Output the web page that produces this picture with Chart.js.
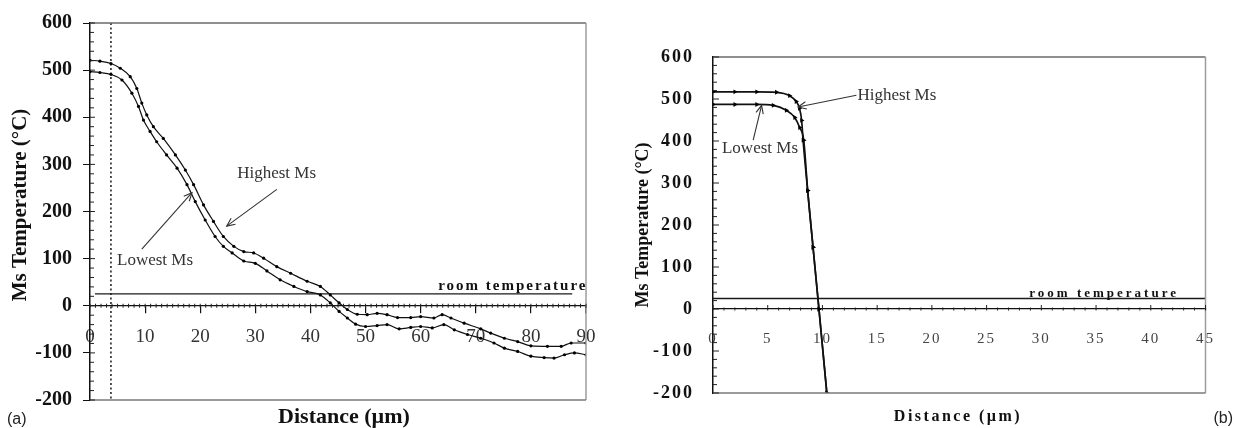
<!DOCTYPE html>
<html>
<head>
<meta charset="utf-8">
<script src="https://cdn.jsdelivr.net/npm/chart.js@4.4.1/dist/chart.umd.min.js"></script>
<style>
  html, body { margin: 0; padding: 0; background: #fff; }
  #wrap { position: relative; width: 1234px; height: 428px; overflow: hidden; background: #fff; }
  canvas { position: absolute; top: 0; }
  #chartA { left: 0; }
  #chartB { left: 617px; }
</style>
</head>
<body>
<div id="wrap">
  <canvas id="chartA" width="617" height="428"></canvas>
  <canvas id="chartB" width="617" height="428"></canvas>
</div>
<script>
// ---- Panel (a): Ms across a 90 µm profile ----
const distHighA = [0, 1.8, 3.8, 5.5, 7.3, 8.5, 9.4, 10.3, 11.5, 13.3, 15.5, 17.3, 18.8, 20.6, 22.4, 24.2, 26.1, 27.9, 29.7, 31.5, 33.9, 36.4, 39.4, 41.8, 43.6, 45.2, 46.7, 48.5, 50.3, 52.1, 53.9, 55.8, 58.2, 60, 62.4, 63.9, 65.5, 67.9, 70.9, 72.7, 75.2, 77.6, 80, 83, 85.5, 87.3, 90];
const msHighA   = [521, 519, 514, 504, 486, 461, 430, 405, 380, 355, 320, 288, 257, 214, 179, 147, 126, 115, 112, 101, 83, 69, 52, 41, 23, 6, -8, -18, -19, -16, -19, -25, -25, -23, -26, -19, -26, -37, -49, -58, -69, -76, -85, -86, -86, -79, -79];
const distLowA  = [0, 1.8, 3.8, 5.8, 7.6, 8.8, 9.7, 10.9, 12.1, 13.9, 15.8, 17.6, 19.1, 20.9, 22.7, 24.2, 25.8, 27.9, 30, 32.1, 34.5, 37, 39.4, 41.8, 43.6, 45.2, 46.7, 48.2, 50, 52.1, 53.9, 56.1, 58.2, 60, 62.1, 64.2, 66.1, 68.5, 70.9, 73.3, 75.2, 77.6, 80, 82.4, 84.2, 86.1, 87.9, 90];
const msLowA    = [497, 495, 491, 479, 451, 423, 394, 370, 348, 320, 292, 257, 221, 182, 147, 126, 112, 95, 90, 74, 55, 41, 30, 23, 6, -12, -26, -39, -44, -42, -40, -49, -46, -44, -47, -40, -51, -61, -69, -79, -90, -97, -107, -110, -111, -104, -100, -104];
const markerDepthA = 3.8;          // dotted reference depth, µm
const roomSpanA = [0.9, 87.5];     // extent of the room-temperature line, µm

// ---- Panel (b): Ms across a 45 µm profile ----
const distHighB = [0, 2, 4, 5.8, 7.0, 7.6, 7.9, 8.1, 8.23, 8.65, 9.14, 9.68, 10.4];
const msHighB   = [517, 517, 517, 516, 508, 494, 478, 449, 402, 282, 147, 0, -200];
const distLowB  = [0, 2, 4, 5.5, 6.7, 7.47, 7.92, 8.29, 8.65, 9.14, 9.68, 10.4];
const msLowB    = [487, 487, 487, 485, 473, 456, 432, 402, 282, 147, 0, -200];
const roomSpanB = [0, 45];

const roomTemp = 25;               // °C
const yTicks = { min: -200, max: 600, step: 100 };
const xMaxA = 90, xStepA = 10;
const xMaxB = 45, xStepB = 5;

const SERIF = '"Liberation Serif", "DejaVu Serif", serif';
const toPoints = (xs, ys) => xs.map((x, i) => ({ x, y: ys[i] }));

function seg(ctx, color, x1, y1, x2, y2) {
  ctx.strokeStyle = color;
  ctx.beginPath(); ctx.moveTo(x1, y1); ctx.lineTo(x2, y2); ctx.stroke();
}

function arrow(ctx, x1, y1, x2, y2, head) {
  seg(ctx, '#333', x1, y1, x2, y2);
  const a = Math.atan2(y2 - y1, x2 - x1);
  ctx.beginPath();
  ctx.moveTo(x2 - head * Math.cos(a - 0.42), y2 - head * Math.sin(a - 0.42));
  ctx.lineTo(x2, y2);
  ctx.lineTo(x2 - head * Math.cos(a + 0.42), y2 - head * Math.sin(a + 0.42));
  ctx.stroke();
}

// Frame, inside tick marks, captions and arrows for one panel
function decor(p) {
  return {
    id: 'decor',
    beforeDraw(chart) { chart.ctx.letterSpacing = p.tickSpacing; },
    beforeDatasetsDraw(chart) { chart.ctx.letterSpacing = '0px'; },
    afterDraw(chart) {
      const ctx = chart.ctx, xs = chart.scales.x, ys = chart.scales.y;
      const { left, right, top, bottom } = chart.chartArea;
      const P = (x, y) => [xs.getPixelForValue(x), ys.getPixelForValue(y)];
      ctx.save();
      ctx.letterSpacing = '0px';

      // plot frame
      ctx.lineWidth = 1.5;
      seg(ctx, '#6a6a6a', left, top, right, top);
      seg(ctx, '#9c9c9c', right, top, right, bottom);
      seg(ctx, '#7a7a7a', left, bottom, right, bottom);

      // inside ticks on the value axis
      ctx.lineWidth = 1;
      for (let v = ys.min; v <= ys.max + 1e-6; v += 20) {
        const y = ys.getPixelForValue(v);
        const major = Math.abs(v % 100) < 1e-6;
        seg(ctx, '#222', left, y, left + (major ? p.yMajorIn : p.yMinorIn), y);
      }
      // 1 µm ticks along the zero line
      const y0 = ys.getPixelForValue(0);
      for (let v = xs.min; v <= xs.max + 1e-6; v += 1) {
        const x = xs.getPixelForValue(v);
        const major = Math.abs(v % p.xMajor) < 1e-6;
        seg(ctx, '#222', x, y0 - (major ? p.xMajorUp : p.xMinor), x, y0 + p.xMinor);
      }

      // room temperature caption
      ctx.fillStyle = '#111';
      ctx.font = `bold ${p.roomFont}px ${SERIF}`;
      ctx.letterSpacing = p.roomSpacing + 'px';
      ctx.textAlign = 'right';
      ctx.textBaseline = 'alphabetic';
      const [rx, ry] = P(p.roomLabel[0], p.roomLabel[1]);
      ctx.fillText('room temperature', rx + p.roomSpacing, ry);
      ctx.letterSpacing = '0px';

      // curve captions and arrows
      ctx.fillStyle = '#333';
      ctx.font = `17px ${SERIF}`;
      ctx.textAlign = 'left';
      ctx.textBaseline = 'middle';
      p.notes.forEach(n => { const [x, y] = P(n.at[0], n.at[1]); ctx.fillText(n.text, x, y); });
      ctx.lineWidth = 1.1;
      p.arrows.forEach(a => {
        const [x1, y1] = P(a.from[0], a.from[1]);
        const [x2, y2] = P(a.to[0], a.to[1]);
        arrow(ctx, x1, y1, x2, y2, 9);
      });

      // axis titles
      ctx.fillStyle = '#111';
      ctx.save();
      ctx.translate(p.yTitle.x, p.yTitle.y);
      ctx.rotate(-Math.PI / 2);
      ctx.textAlign = 'center';
      ctx.textBaseline = 'middle';
      ctx.font = `bold ${p.yTitle.size}px ${SERIF}`;
      ctx.letterSpacing = p.yTitle.spacing + 'px';
      ctx.fillText('Ms Temperature (°C)', 0, 0);
      ctx.restore();

      ctx.font = `bold ${p.xTitle.size}px ${SERIF}`;
      ctx.letterSpacing = p.xTitle.spacing + 'px';
      ctx.textAlign = 'center';
      ctx.textBaseline = 'middle';
      ctx.fillText('Distance (µm)', p.xTitle.x, p.xTitle.y);
      ctx.letterSpacing = '0px';

      // panel tag
      ctx.fillStyle = '#222';
      ctx.font = '16px "Liberation Sans", Arial, sans-serif';
      ctx.textAlign = p.tag.align;
      ctx.fillText(p.tag.text, p.tag.x, p.tag.y);
      ctx.restore();
    }
  };
}

function curve(label, pts, width, radius, style) {
  return {
    label, data: pts, showLine: true,
    borderColor: '#111', borderWidth: width,
    pointRadius: radius, pointStyle: style, pointRotation: style === 'triangle' ? 90 : 0,
    pointBackgroundColor: '#000', pointBorderColor: '#000', pointBorderWidth: 0,
    cubicInterpolationMode: 'monotone'
  };
}

function straight(label, pts, width, dash) {
  return {
    label, data: pts, showLine: true, borderColor: '#1a1a1a', borderWidth: width,
    borderDash: dash || [], pointRadius: 0
  };
}

function buildChart(id, cfg) {
  return new Chart(document.getElementById(id), {
    type: 'scatter',
    data: { datasets: cfg.datasets },
    options: {
      responsive: false, animation: false, devicePixelRatio: 1,
      layout: { padding: cfg.padding },
      plugins: { legend: { display: false }, tooltip: { enabled: false } },
      scales: {
        x: {
          type: 'linear', min: 0, max: cfg.xMax, position: { y: 0 },
          ticks: {
            stepSize: cfg.xStep, autoSkip: false, maxRotation: 0,
            padding: cfg.xPad, color: cfg.xColor,
            font: { family: SERIF, size: cfg.xFont }
          },
          grid: { drawOnChartArea: false, drawTicks: cfg.xTickLen > 0, tickLength: cfg.xTickLen, color: '#111', lineWidth: 1.2 },
          border: { color: '#111', width: 1.3 }
        },
        y: {
          type: 'linear', min: yTicks.min, max: yTicks.max,
          ticks: {
            stepSize: yTicks.step, padding: cfg.yPad, color: '#111',
            font: { family: SERIF, size: cfg.yFont, weight: 'bold' }
          },
          grid: { drawOnChartArea: false, drawTicks: cfg.yTickLen > 0, tickLength: cfg.yTickLen, color: '#111' },
          border: { color: '#111', width: 1.5 },
          afterFit(scale) { scale.width = cfg.yWidth; }
        }
      }
    },
    plugins: [decor(cfg.decor)]
  });
}

buildChart('chartA', {
  datasets: [
    curve('Highest Ms', toPoints(distHighA, msHighA), 1.2, 1.6, 'circle'),
    curve('Lowest Ms', toPoints(distLowA, msLowA), 1.2, 1.6, 'circle'),
    straight('room temperature', [{ x: roomSpanA[0], y: roomTemp }, { x: roomSpanA[1], y: roomTemp }], 1.3),
    straight('reference depth', [{ x: markerDepthA, y: yTicks.max }, { x: markerDepthA, y: yTicks.min }], 1.5, [2, 2.5])
  ],
  padding: { left: 0, top: 21, right: 31, bottom: 28 },
  xMax: xMaxA, xStep: xStepA, xPad: 13, xColor: '#333', xFont: 19, xTickLen: 7,
  yPad: 11, yFont: 20, yTickLen: 7, yWidth: 90,
  decor: {
    tickSpacing: '0px',
    yMajorIn: 5, yMinorIn: 4,
    xMajor: xStepA, xMajorUp: 2, xMinor: 2,
    roomLabel: [89.9, 34], roomFont: 15, roomSpacing: 2,
    notes: [{ text: 'Highest Ms', at: [26.7, 281] }, { text: 'Lowest Ms', at: [4.9, 95.5] }],
    arrows: [{ from: [33.9, 247], to: [24.8, 169] }, { from: [9.4, 120], to: [18.5, 240] }],
    yTitle: { x: 21, y: 205, size: 21, spacing: 0 },
    xTitle: { x: 344, y: 417, size: 22, spacing: 0 },
    tag: { text: '(a)', x: 7, y: 420, align: 'left' }
  }
});

buildChart('chartB', {
  datasets: [
    curve('Highest Ms', toPoints(distHighB, msHighB), 1.7, 2.8, 'triangle'),
    curve('Lowest Ms', toPoints(distLowB, msLowB), 1.7, 2.8, 'triangle'),
    straight('room temperature', [{ x: roomSpanB[0], y: roomTemp }, { x: roomSpanB[1], y: roomTemp }], 1.3)
  ],
  padding: { left: 0, top: 57, right: 27, bottom: 35 },
  xMax: xMaxB, xStep: xStepB, xPad: 21, xColor: '#444', xFont: 15, xTickLen: 0,
  yPad: 19, yFont: 18, yTickLen: 0, yWidth: 96,
  decor: {
    tickSpacing: '2px',
    yMajorIn: 6, yMinorIn: 4,
    xMajor: xStepB, xMajorUp: 4, xMinor: 1.5,
    roomLabel: [42.3, 29], roomFont: 13, roomSpacing: 3,
    notes: [{ text: 'Highest Ms', at: [13.2, 509] }, { text: 'Lowest Ms', at: [0.82, 383] }],
    arrows: [{ from: [13.1, 509], to: [7.77, 481] }, { from: [3.67, 402], to: [4.44, 485] }],
    yTitle: { x: 26, y: 225, size: 18, spacing: 0 },
    xTitle: { x: 341, y: 417, size: 16, spacing: 2.5 },
    tag: { text: '(b)', x: 616, y: 419, align: 'right' }
  }
});
</script>
</body>
</html>
